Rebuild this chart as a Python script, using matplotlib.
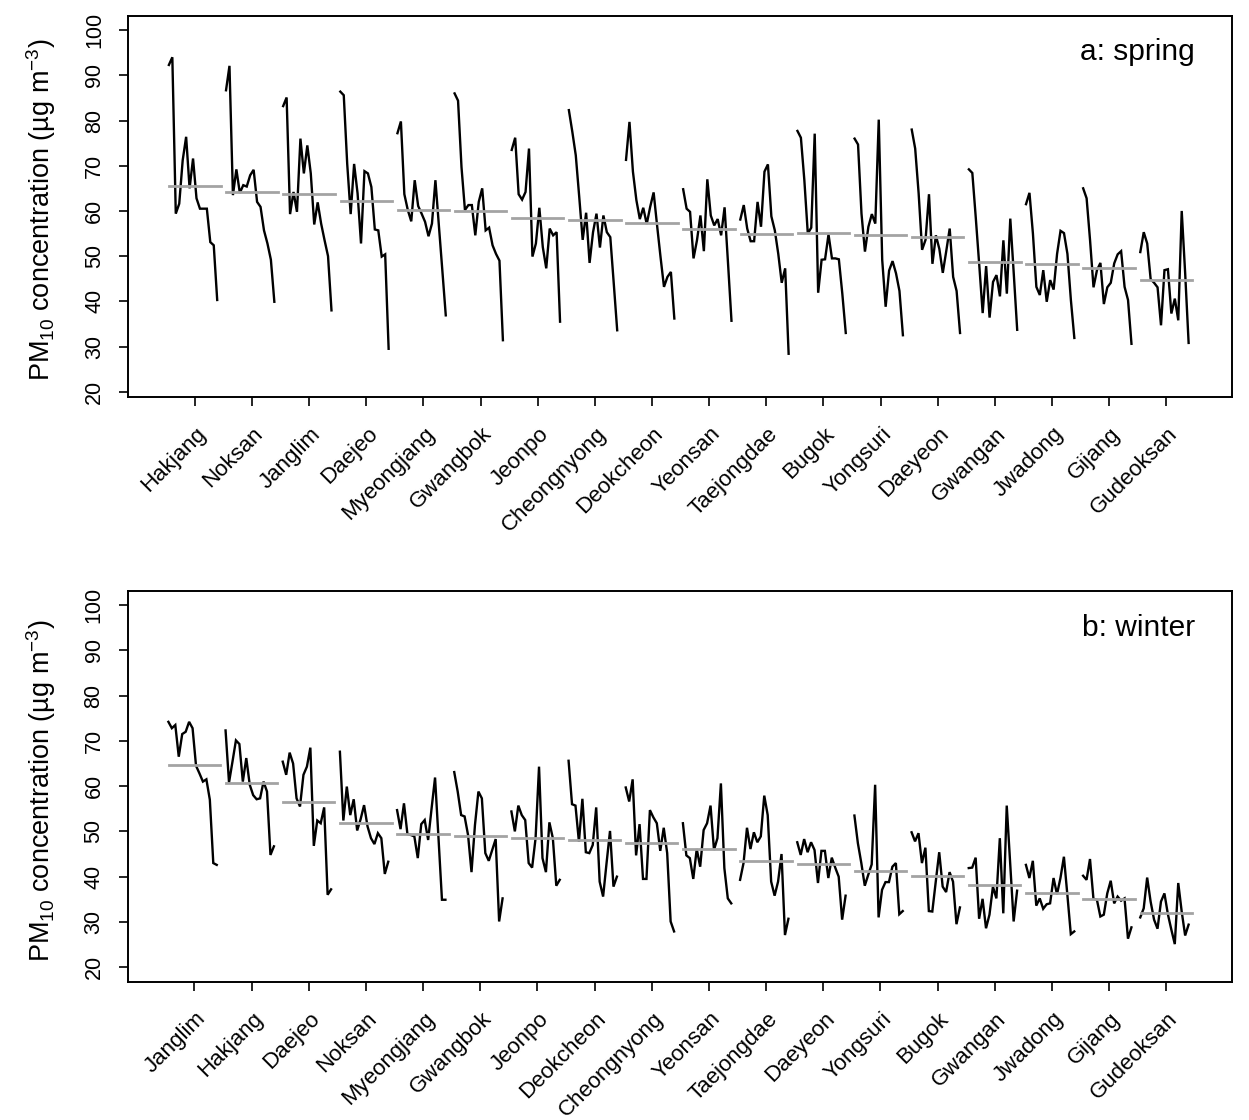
import numpy as np
import matplotlib.pyplot as plt
import matplotlib.transforms as mtransforms

plt.rcParams['font.family'] = ['Liberation Sans', 'DejaVu Sans']
plt.rcParams['mathtext.fontset'] = 'custom'
plt.rcParams['mathtext.rm'] = 'Liberation Sans'
plt.rcParams['mathtext.default'] = 'regular'

# ---- spring (a) : stations ordered by mean
spring_sites = ['Hakjang', 'Noksan', 'Janglim', 'Daejeo', 'Myeongjang', 'Gwangbok',
                'Jeonpo', 'Cheongnyong', 'Deokcheon', 'Yeonsan', 'Taejongdae', 'Bugok',
                'Yongsuri', 'Daeyeon', 'Gwangan', 'Jwadong', 'Gijang', 'Gudeoksan']

sp_hakjang = [92.3, 94.0, 59.4, 61.6, 71.2, 76.4, 65.0, 71.6, 62.8, 60.5, 60.5, 60.5, 53.1, 52.4, 40.3]
sp_noksan = [86.7, 92.1, 63.5, 69.2, 64.0, 65.7, 65.4, 67.9, 69.1, 62.0, 60.9, 55.7, 52.8, 49.2, 39.9]
sp_janglim = [83.2, 85.1, 59.3, 64.2, 59.8, 76.0, 68.3, 74.5, 68.3, 57.0, 61.9, 57.2, 53.5, 50.0, 38.0]
sp_daejeo = [86.4, 85.6, 70.4, 59.3, 70.4, 63.9, 52.8, 68.8, 68.3, 65.3, 55.9, 55.7, 49.9, 50.4, 29.5]
sp_myeongjang = [77.2, 79.8, 63.7, 60.2, 57.7, 66.8, 61.1, 59.4, 57.6, 54.4, 57.2, 66.8, 56.8, 46.9, 36.9]
sp_gwangbok = [86.0, 84.4, 69.7, 60.2, 61.3, 61.3, 54.6, 62.0, 65.0, 55.7, 56.3, 52.4, 50.5, 49.0, 31.4]
sp_jeonpo = [73.5, 76.2, 63.7, 62.5, 64.2, 73.8, 49.9, 52.8, 60.7, 52.0, 47.3, 56.1, 54.6, 55.3, 35.5]
sp_cheongnyong = [82.3, 77.5, 72.3, 63.1, 53.6, 59.6, 48.5, 55.3, 59.4, 51.9, 59.0, 55.3, 54.2, 44.0, 33.6]
sp_deokcheon = [71.3, 79.7, 68.7, 62.4, 58.2, 60.7, 57.1, 60.9, 64.1, 56.8, 49.8, 43.2, 45.4, 46.5, 36.2]
sp_yeonsan = [64.8, 60.5, 59.8, 49.5, 53.5, 59.0, 51.1, 67.0, 59.0, 56.8, 58.2, 54.6, 60.8, 48.4, 35.7]
sp_taejongdae = [58.1, 61.3, 56.1, 53.3, 53.3, 62.0, 56.5, 68.7, 70.3, 58.8, 55.7, 50.5, 44.1, 47.3, 28.4]
sp_bugok = [77.7, 76.2, 66.8, 55.0, 56.3, 77.1, 41.9, 49.2, 49.3, 54.8, 49.5, 49.5, 49.3, 41.7, 33.0]
sp_yongsuri = [76.0, 74.7, 59.4, 51.0, 56.5, 59.3, 57.2, 80.2, 49.2, 38.8, 46.8, 48.9, 46.2, 42.3, 32.5]
sp_daeyeon = [78.0, 73.8, 63.9, 51.4, 53.6, 63.7, 48.3, 54.6, 51.6, 46.3, 51.1, 56.1, 45.4, 42.3, 33.0]
sp_gwangan = [69.2, 68.4, 58.5, 48.1, 37.4, 47.8, 36.4, 44.3, 45.8, 41.1, 53.5, 41.7, 58.3, 46.2, 33.7]
sp_jwadong = [61.5, 64.0, 55.0, 43.2, 41.4, 46.9, 39.9, 44.7, 42.6, 50.5, 55.6, 55.1, 50.5, 40.3, 31.9]
sp_gijang = [65.0, 62.8, 53.5, 43.1, 46.9, 48.5, 39.4, 43.1, 44.1, 48.4, 50.4, 51.1, 43.2, 40.3, 30.6]
sp_gudeoksan = [50.9, 55.3, 52.8, 44.9, 44.1, 43.1, 34.7, 46.9, 47.1, 37.3, 40.6, 35.8, 60.0, 46.2, 30.8]

# ---- winter (b)
winter_sites = ['Janglim', 'Hakjang', 'Daejeo', 'Noksan', 'Myeongjang', 'Gwangbok',
                'Jeonpo', 'Deokcheon', 'Cheongnyong', 'Yeonsan', 'Taejongdae', 'Daeyeon',
                'Yongsuri', 'Bugok', 'Gwangan', 'Jwadong', 'Gijang', 'Gudeoksan']

wi_janglim = [74.2, 72.8, 73.5, 66.5, 71.5, 72.0, 74.2, 72.8, 64.5, 62.8, 61.0, 61.5, 57.0, 43.0, 42.6]
wi_hakjang = [72.3, 60.8, 65.4, 70.1, 69.3, 61.0, 66.2, 60.3, 58.0, 57.1, 57.3, 61.0, 58.8, 44.8, 46.7]
wi_daejeo = [65.4, 62.5, 67.4, 65.0, 57.3, 55.5, 62.5, 64.3, 68.5, 46.8, 52.4, 51.8, 55.3, 36.0, 37.2]
wi_noksan = [67.6, 52.4, 59.9, 53.6, 57.1, 50.2, 52.7, 55.8, 51.1, 48.5, 47.2, 49.6, 48.5, 40.6, 43.3]
wi_myeongjang = [54.7, 50.5, 56.2, 49.4, 49.2, 48.9, 44.1, 51.6, 52.5, 48.1, 55.1, 61.9, 48.5, 34.9, 34.9]
wi_gwangbok = [63.1, 58.8, 53.6, 53.3, 49.2, 41.0, 51.4, 58.8, 57.3, 45.2, 43.5, 45.9, 48.3, 30.1, 35.2]
wi_jeonpo = [54.4, 50.0, 55.7, 53.6, 52.5, 43.0, 42.0, 48.5, 64.3, 44.1, 41.0, 52.0, 48.5, 38.0, 39.3]
wi_deokcheon = [65.6, 56.0, 55.7, 47.7, 57.2, 45.4, 45.2, 47.0, 55.3, 38.9, 35.6, 43.0, 50.1, 37.8, 40.0]
wi_cheongnyong = [59.7, 56.6, 61.5, 44.7, 51.6, 39.5, 39.5, 54.7, 53.1, 51.8, 45.7, 50.8, 45.2, 30.1, 27.9]
wi_yeonsan = [51.8, 44.7, 44.1, 39.5, 46.1, 42.2, 50.3, 51.8, 55.7, 45.9, 48.5, 60.6, 41.9, 35.2, 34.1]
wi_taejongdae = [39.3, 43.0, 50.8, 46.1, 49.8, 47.6, 48.9, 57.9, 53.6, 38.9, 35.8, 38.9, 45.0, 27.1, 30.7]
wi_daeyeon = [47.6, 44.8, 48.3, 45.4, 47.6, 45.9, 38.6, 45.7, 45.7, 39.7, 44.2, 42.0, 40.0, 30.5, 35.8]
wi_yongsuri = [53.5, 47.4, 43.0, 38.0, 40.4, 42.7, 60.3, 31.0, 37.1, 38.8, 38.8, 42.2, 43.0, 31.7, 32.4]
wi_bugok = [49.8, 47.8, 49.6, 43.0, 46.4, 32.4, 32.3, 38.9, 45.4, 37.8, 36.6, 41.0, 38.9, 29.5, 33.2]
wi_gwangan = [41.9, 42.0, 44.2, 30.7, 35.1, 28.6, 31.6, 37.8, 35.2, 48.5, 31.9, 55.7, 42.9, 30.1, 36.9]
wi_jwadong = [42.6, 39.7, 43.5, 33.6, 35.2, 32.9, 33.9, 34.1, 39.7, 36.1, 39.7, 44.4, 36.0, 27.3, 27.9]
wi_gijang = [40.2, 39.3, 43.9, 35.1, 34.9, 31.2, 31.6, 36.3, 39.1, 34.1, 35.6, 34.7, 35.2, 26.3, 28.8]
wi_gudeoksan = [31.0, 33.0, 39.8, 34.5, 30.5, 28.5, 34.5, 36.3, 31.7, 28.3, 25.1, 38.6, 32.3, 27.0, 29.4]

spring_series = [sp_hakjang, sp_noksan, sp_janglim, sp_daejeo, sp_myeongjang, sp_gwangbok,
                 sp_jeonpo, sp_cheongnyong, sp_deokcheon, sp_yeonsan, sp_taejongdae, sp_bugok,
                 sp_yongsuri, sp_daeyeon, sp_gwangan, sp_jwadong, sp_gijang, sp_gudeoksan]
winter_series = [wi_janglim, wi_hakjang, wi_daejeo, wi_noksan, wi_myeongjang, wi_gwangbok,
                 wi_jeonpo, wi_deokcheon, wi_cheongnyong, wi_yeonsan, wi_taejongdae, wi_daeyeon,
                 wi_yongsuri, wi_bugok, wi_gwangan, wi_jwadong, wi_gijang, wi_gudeoksan]

ylab = r'PM$_{10}$ concentration (µg m$^{-3}$)'


def subseries_panel(ax, sites, series, tag, ylim):
    # one short line per station + grey mean segment (like R monthplot)
    for i, vals in enumerate(series, start=1):
        vals = np.asarray(vals)
        xs = i - 0.455 + 0.0604 * np.arange(len(vals))
        ax.plot(xs, vals, color='black', lw=1.7, solid_joinstyle='miter')
        m = vals.mean()
        ax.plot([i - 0.45, i + 0.45], [m, m], color='#a3a3a3', lw=2.0)

    ax.set_xlim(-0.17, 19.15)
    ax.set_ylim(*ylim)
    ax.set_yticks(np.arange(20, 101, 10))
    ax.set_yticklabels([str(v) for v in range(20, 101, 10)], rotation=90,
                       va='center', ha='right', fontsize=15.5)
    ax.tick_params(axis='y', length=6.5, width=1.2, pad=10)
    ax.set_xticks(np.arange(1, len(sites) + 1))
    ax.set_xticklabels(sites, rotation=45, ha='right', va='center',
                       rotation_mode='anchor', fontsize=16)
    ax.tick_params(axis='x', length=6.5, width=1.2, pad=18)
    offset = mtransforms.ScaledTranslation(0.08, 0, ax.figure.dpi_scale_trans)
    for lab in ax.get_xticklabels():
        lab.set_transform(lab.get_transform() + offset)
    for sp in ax.spines.values():
        sp.set_linewidth(1.4)
    ax.set_ylabel(ylab, fontsize=19.5)
    ax.yaxis.set_label_coords(-0.063, 0.49)
    ax.text(0.9665, 0.905, tag, transform=ax.transAxes, ha='right', va='center',
            fontsize=21.5)


fig = plt.figure(figsize=(12.49, 11.20), dpi=100)
ax1 = fig.add_axes([0.1025, 0.6458, 0.8839, 0.3402])
ax2 = fig.add_axes([0.1021, 0.1235, 0.8843, 0.3488])

subseries_panel(ax1, spring_sites, spring_series, 'a: spring', (18.9, 103.2))
subseries_panel(ax2, winter_sites, winter_series, 'b: winter', (16.8, 103.1))

fig.savefig('out.png', dpi=100)
